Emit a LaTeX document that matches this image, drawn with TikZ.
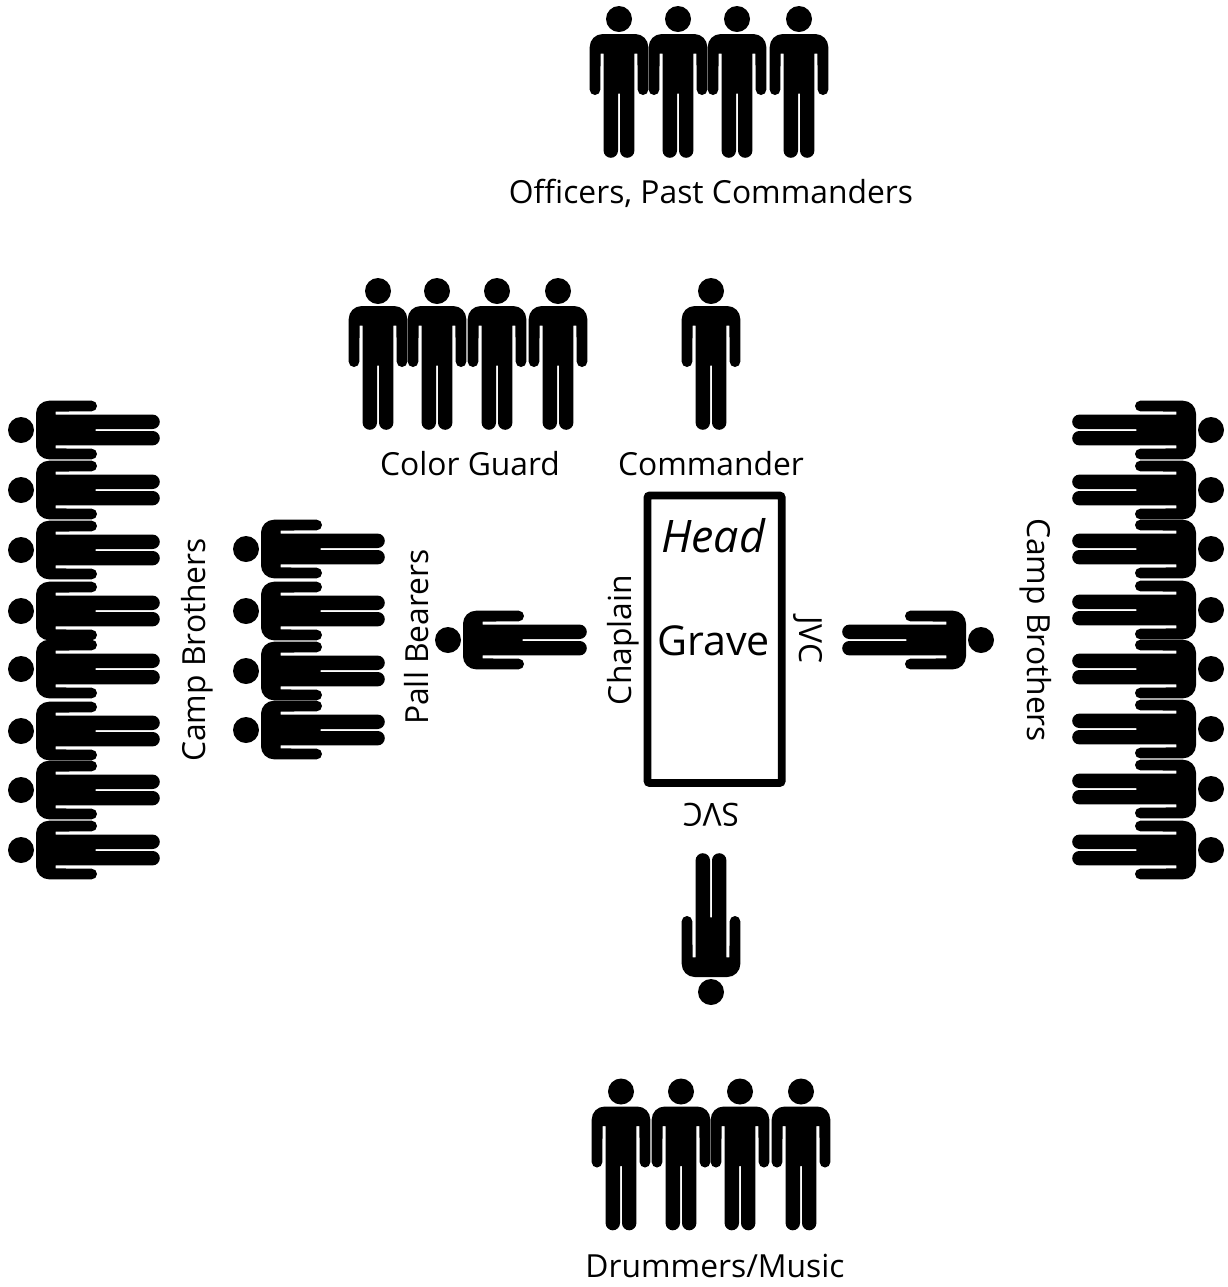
\documentclass[tikz,border=0pt]{standalone}
\usepackage{fontspec}
\setmainfont{Open Sans}
\tikzset{
  label/.style={inner sep=0pt, font=\fontsize{15.9}{19}\selectfont},
  person/.pic={
    \fill (0,0) circle (6.5pt);
    \fill (-16.3,15) arc[start angle=90, end angle=180, radius=6.5pt]
      -- (-29.3,70.7) arc[start angle=180, end angle=360, radius=2.65pt]
      -- (-18.4,34.6) -- (-15.4,34.6)
      -- (-15.4,131.6) arc[start angle=180, end angle=360, radius=3.6pt]
      -- (-1,74.6) -- (1,74.6)
      -- (1,131.6) arc[start angle=180, end angle=360, radius=3.6pt]
      -- (15.4,34.6) -- (18.4,34.6)
      -- (18.7,70.7) arc[start angle=180, end angle=360, radius=2.65pt]
      -- (29.3,28) arc[start angle=0, end angle=90, radius=6.5pt] -- cycle;
  }
}
\begin{document}
\begin{tikzpicture}[x=0.5pt, y=-0.5pt]
  \useasboundingbox (0,0) rectangle (1228,1287);
  \foreach \x in {619,678,737,799} \pic at (\x,19) {person};
  \foreach \x in {378,437,497,558} \pic at (\x,291) {person};
  \foreach \x in {621,681,740,801} \pic at (\x,1091.5) {person};
  \pic at (711,291) {person};
  \pic[rotate=180] at (711,992) {person};
  \pic[rotate=90] at (448,640) {person};
  \pic[rotate=-90] at (981,640) {person};
  \foreach \y in {549,611,671,730} \pic[rotate=90] at (246,\y) {person};
  \foreach \y in {430,490,550,611,669,731,790,850} \pic[rotate=90] at (21,\y) {person};
  \foreach \y in {430,490,549,610,669,729,789,850} \pic[rotate=-90] at (1211,\y) {person};
  \draw[line width=3.8pt, rounded corners=1pt] (647.5,495.5) rectangle (781.7,783);
  \node[label] (officers) at (711,193) {Officers, Past Commanders};
  \node[label] (guard) at (470,464) {Color Guard};
  \node[label] (commander) at (711,464) {Commander};
  \node[label] (drummers) at (715,1266) {Drummers/Music};
  \node[label, font=\fontsize{22.4}{26}\selectfont\itshape] (head) at (713,536) {Head};
  \node[label, font=\fontsize{20.6}{25}\selectfont] (grave) at (713.5,641) {Grave};
  \node[label, rotate=90] (chaplain) at (623,640) {Chaplain};
  \node[label, rotate=-90] (jvc) at (808,640) {JVC};
  \node[label, rotate=180] (svc) at (711,815) {SVC};
  \node[label, rotate=90] (bearers) at (417,637) {Pall Bearers};
  \node[label, rotate=90] (campleft) at (197,650) {Camp Brothers};
  \node[label, rotate=-90] (campright) at (1036,630) {Camp Brothers};
\end{tikzpicture}
\end{document}
